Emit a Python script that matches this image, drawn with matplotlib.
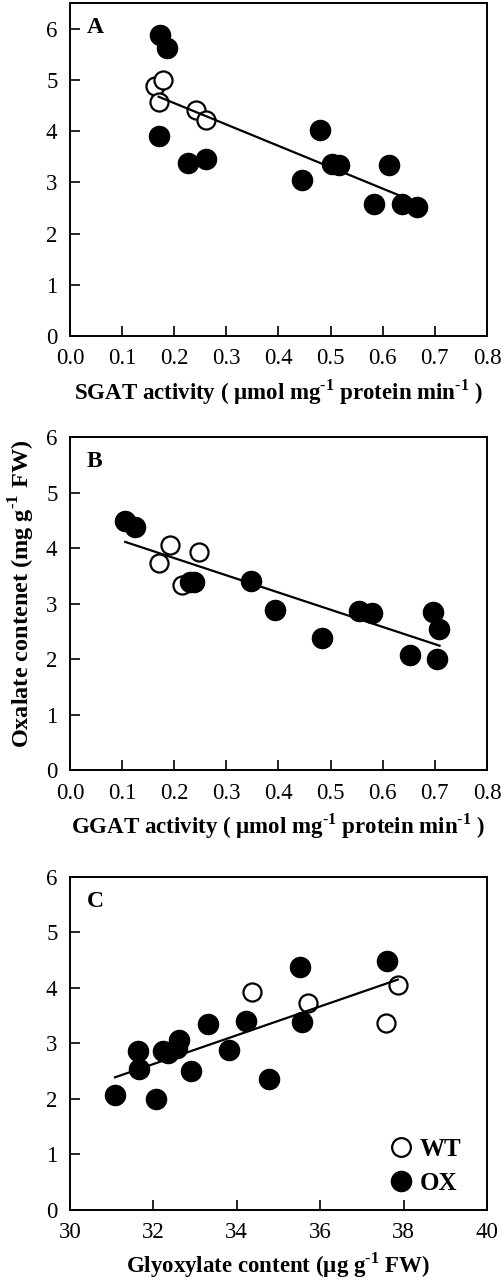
import numpy as np
import matplotlib
matplotlib.use('Agg')
import matplotlib.pyplot as plt
from matplotlib.lines import Line2D

plt.rcParams['font.family'] = ['Liberation Serif', 'DejaVu Serif']
plt.rcParams['mathtext.fontset'] = 'custom'
plt.rcParams['mathtext.rm'] = 'Liberation Serif'
plt.rcParams['mathtext.bf'] = 'Liberation Serif:bold'

# --- Panel A: SGAT activity vs oxalate ---
a_wt_x = [0.163, 0.179, 0.171, 0.242, 0.261]
a_wt_y = [4.88, 4.99, 4.56, 4.41, 4.21]
a_ox_x = [0.173, 0.186, 0.171, 0.227, 0.261, 0.479, 0.445, 0.503, 0.516, 0.612, 0.584, 0.637, 0.666]
a_ox_y = [5.87, 5.62, 3.90, 3.38, 3.46, 4.02, 3.04, 3.36, 3.34, 3.33, 2.58, 2.57, 2.51]
a_fit_x = [0.170, 0.635]
a_fit_y = [4.67, 2.73]

# --- Panel B: GGAT activity vs oxalate ---
b_wt_x = [0.192, 0.1715, 0.248, 0.214]
b_wt_y = [4.06, 3.73, 3.92, 3.34]
b_ox_x = [0.106, 0.125, 0.231, 0.238, 0.347, 0.394, 0.483, 0.555, 0.580, 0.653, 0.696, 0.707, 0.705]
b_ox_y = [4.49, 4.37, 3.38, 3.38, 3.40, 2.88, 2.37, 2.87, 2.83, 2.07, 2.84, 2.54, 2.00]
b_fit_x = [0.106, 0.709]
b_fit_y = [4.11, 2.24]

# --- Panel C: glyoxylate vs oxalate ---
c_wt_x = [34.36, 35.70, 37.57, 37.86]
c_wt_y = [3.92, 3.73, 3.36, 4.06]
c_ox_x = [31.08, 31.62, 31.66, 32.06, 32.24, 32.36, 32.56, 32.62, 32.90, 33.30, 33.82, 34.22, 34.78, 35.52, 35.56, 37.60]
c_ox_y = [2.07, 2.86, 2.54, 2.00, 2.87, 2.83, 2.92, 3.07, 2.51, 3.35, 2.89, 3.40, 2.36, 4.38, 3.38, 4.48]
c_fit_x = [31.08, 37.86]
c_fit_y = [2.39, 4.15]

act_ticks = [0.0, 0.1, 0.2, 0.3, 0.4, 0.5, 0.6, 0.7, 0.8]
gly_ticks = [30, 32, 34, 36, 38, 40]
oxa_ticks = [0, 1, 2, 3, 4, 5, 6]

TICK_FS = 16.5
LABEL_FS = 16.5


def draw_panel(ax, wt_x, wt_y, ox_x, ox_y, fit_x, fit_y, letter):
    ax.plot(ox_x, ox_y, 'o', ms=14.5, mfc='black', mec='black', zorder=2)
    ax.plot(wt_x, wt_y, 'o', ms=13, mfc='white', mec='black', mew=1.6, zorder=1)
    ax.plot(fit_x, fit_y, '-', color='black', lw=1.6, zorder=3)
    ax.text(0.04, 0.957, letter, transform=ax.transAxes, fontsize=17,
            fontweight='bold', va='top', ha='left')
    ax.tick_params(direction='in', length=7, width=1.2, top=False, right=False,
                   labelsize=TICK_FS, pad=9)
    for s in ax.spines.values():
        s.set_linewidth(1.4)


fig = plt.figure(figsize=(5.02, 12.8), dpi=100)

axA = fig.add_axes([0.1394, 0.7375, 0.8307, 0.2602])
draw_panel(axA, a_wt_x, a_wt_y, a_ox_x, a_ox_y, a_fit_x, a_fit_y, 'A')
axA.set_xlim(0, 0.8)
axA.set_ylim(0, 6.5)
axA.set_xticks(act_ticks)
axA.set_xticklabels([f'{t:.1f}' for t in act_ticks])
axA.set_yticks(oxa_ticks)
axA.set_xlabel(r'SGAT activity ( µmol mg$^{\mathbf{‐1}}$ protein min$^{\mathbf{‐1}}$ )',
               fontsize=LABEL_FS, fontweight='bold', labelpad=6)

axB = fig.add_axes([0.1394, 0.3984, 0.8307, 0.2602])
draw_panel(axB, b_wt_x, b_wt_y, b_ox_x, b_ox_y, b_fit_x, b_fit_y, 'B')
axB.set_xlim(0, 0.8)
axB.set_ylim(0, 6)
axB.set_xticks(act_ticks)
axB.set_xticklabels([f'{t:.1f}' for t in act_ticks])
axB.set_yticks(oxa_ticks)
axB.set_xlabel(r'GGAT activity ( µmol mg$^{\mathbf{‐1}}$ protein min$^{\mathbf{‐1}}$ )',
               fontsize=LABEL_FS, fontweight='bold', labelpad=6)
axB.set_ylabel(r'Oxalate contenet (mg g$^{\mathbf{‐1}}$ FW)',
               fontsize=17.5, fontweight='bold')
axB.yaxis.set_label_coords(-0.078, 0.53)

axC = fig.add_axes([0.1394, 0.0547, 0.8307, 0.2602])
draw_panel(axC, c_wt_x, c_wt_y, c_ox_x, c_ox_y, c_fit_x, c_fit_y, 'C')
axC.set_xlim(30, 40)
axC.set_ylim(0, 6)
axC.set_xticks(gly_ticks)
axC.set_yticks(oxa_ticks)
axC.set_xlabel(r'Glyoxylate content (µg g$^{\mathbf{‐1}}$ FW)',
               fontsize=LABEL_FS, fontweight='bold', labelpad=5)

handles = [Line2D([], [], ls='none', marker='o', ms=13.5, mfc='white', mec='black', mew=1.6),
           Line2D([], [], ls='none', marker='o', ms=14.5, mfc='black', mec='black')]
axC.legend(handles, ['WT', 'OX'], loc='lower right', bbox_to_anchor=(0.938, 0.045),
           frameon=False, prop={'weight': 'bold', 'size': 18},
           borderaxespad=0, borderpad=0,
           handletextpad=0.35, labelspacing=0.45, handlelength=0.8)

fig.savefig('out.png', dpi=100)
